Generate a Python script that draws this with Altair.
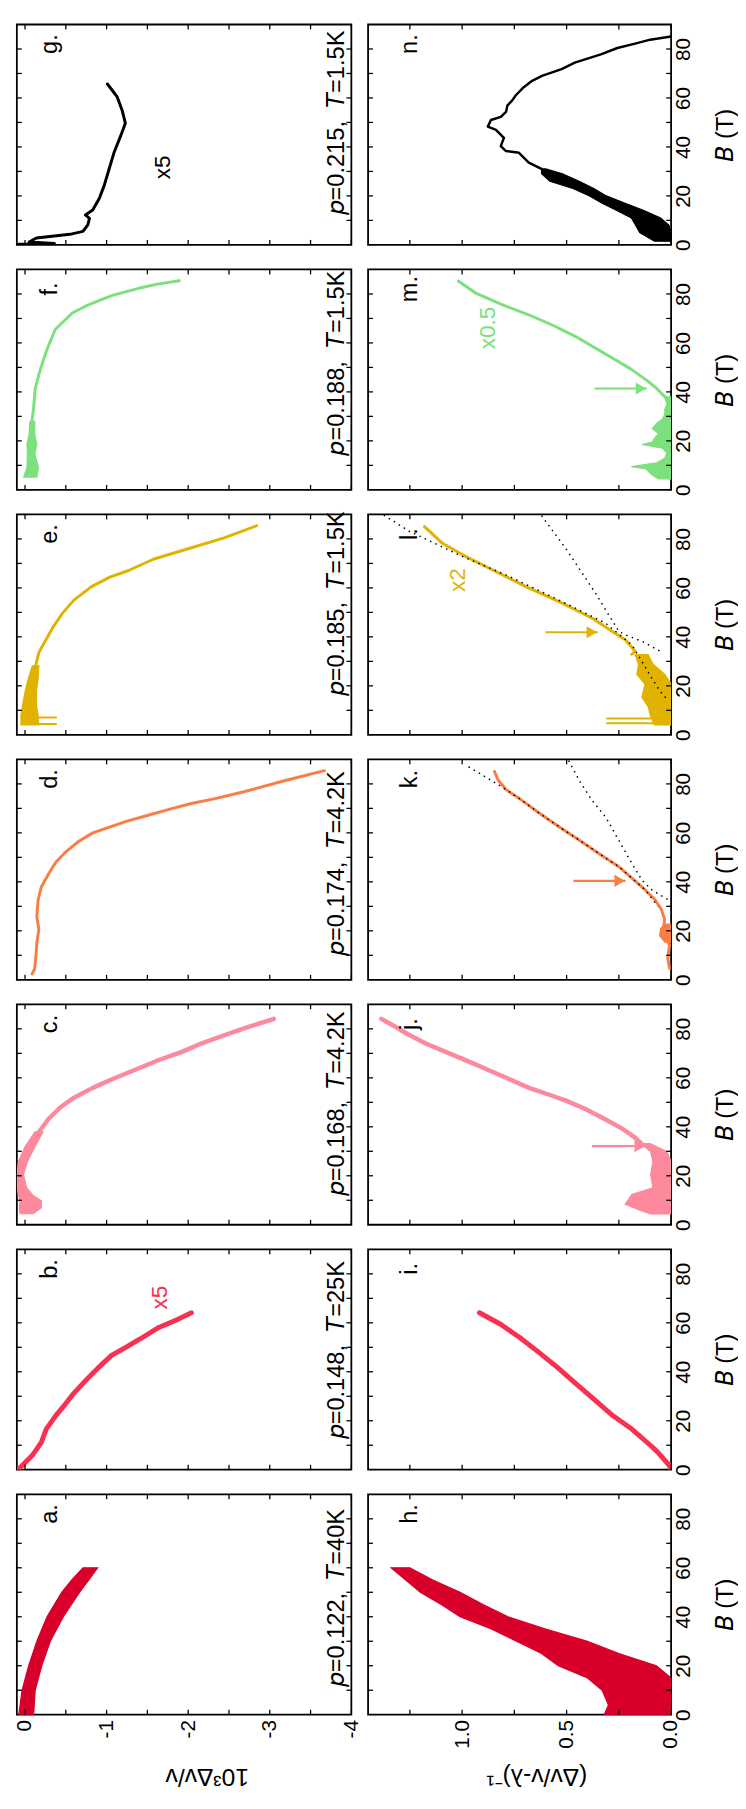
import altair as alt
import pandas as pd

FONT = "Liberation Sans"
W_L, W_R, H = 340, 308, 224
TICK = 5

# ---------------- axes / ticks ----------------
LEFT_DOMAIN = [0.1, -4.0]
RIGHT_DOMAIN = [1.45, 0.0]
B_DOMAIN = [0, 90]
LEFT_X_TICKS = [0, -0.5, -1, -1.5, -2, -2.5, -3, -3.5, -4]
RIGHT_X_TICKS = [0, 0.25, 0.5, 0.75, 1.0, 1.25]
B_TICKS = [10, 20, 30, 40, 50, 60, 70, 80]
LEFT_X_LABELS = [0, -1, -2, -3, -4]
RIGHT_X_LABELS = [0, 0.5, 1.0]
B_LABELS = [0, 20, 40, 60, 80]

# ---------------- colours ----------------
C_A = "#d8002a"
C_B = "#fa3050"
C_C = "#fc8a9c"
C_D = "#fb7d44"
C_E = "#e1b300"
C_F = "#7ce07c"
C_G = "#000000"

# ---------------- left column (10^3 dv/v vs B) ----------------
A_BAND_B = [0, 10, 20, 30, 40, 50, 55, 60]
A_BAND_V1 = [0.076, 0.036, -0.045, -0.145, -0.27, -0.45, -0.57, -0.71]
A_BAND_V2 = [-0.105, -0.125, -0.205, -0.31, -0.47, -0.67, -0.78, -0.89]

B_LINE_B = [0.5, 5.9, 11.2, 16.6, 22.0, 26.6, 31.3, 36.7, 41.4, 46.7, 50.1, 53.4, 58.1, 61.4, 64.1]
B_LINE_V = [0.07, -0.09, -0.2, -0.26, -0.375, -0.49, -0.60, -0.75, -0.89, -1.06, -1.24, -1.41, -1.64, -1.87, -2.04]

C_LINE_B = [37.9, 43.3, 47.9, 51.9, 55.9, 59.3, 63.3, 67.3, 70.7, 74.0, 77.4, 80.7, 84.1]
C_LINE_V = [-0.17, -0.29, -0.43, -0.60, -0.83, -1.06, -1.35, -1.64, -1.93, -2.16, -2.44, -2.73, -3.05]
C_BAND_B = [4.5, 7.0, 9.8, 12.0, 15.1, 20.5, 25.8, 31.8, 37.9]
C_BAND_V1 = [0.06, 0.07, 0.06, 0.08, 0.1, 0.1, 0.08, 0.0, -0.12]
C_BAND_V2 = [-0.1, -0.2, -0.2, -0.1, -0.02, 0.02, -0.03, -0.12, -0.22]

D_LINE_B = [2.4, 4.4, 9.8, 15.1, 20.5, 25.8, 32.5, 37.9, 43.3, 47.9, 51.9, 56.6, 60.0, 62.0, 64.7, 67.3, 70.0, 72.0, 74.0, 76.7, 81.4, 85.4]
D_LINE_V = [-0.088, -0.117, -0.134, -0.145, -0.17, -0.145, -0.16, -0.20, -0.29, -0.375, -0.49, -0.66, -0.83, -1.01, -1.24, -1.52, -1.81, -2.04, -2.33, -2.67, -3.19, -3.67]

E_LINE_B = [28.2, 33.6, 39.0, 44.3, 49.7, 55.0, 60.4, 64.4, 67.1, 71.8, 76.4, 80.4, 85.4]
E_LINE_V = [-0.13, -0.17, -0.26, -0.35, -0.46, -0.60, -0.81, -1.04, -1.27, -1.58, -2.04, -2.44, -2.84]
E_BAND_B = [4.0, 8.0, 12.2, 17.5, 22.9, 28.2]
E_BAND_V1 = [0.05, 0.05, 0.03, 0.0, -0.04, -0.09]
E_BAND_V2 = [-0.17, -0.16, -0.14, -0.14, -0.16, -0.17]
E_SPIKE_B = [4.4, 7.1]
E_SPIKE_V1 = [0.03, 0.03]
E_SPIKE_V2 = [-0.39, -0.39]

F_LINE_B = [28.0, 33.3, 41.4, 49.4, 57.4, 65.5, 72.2, 75.0, 77.5, 79.5, 82.2, 84.0, 85.4]
F_LINE_V = [-0.085, -0.105, -0.125, -0.19, -0.27, -0.37, -0.58, -0.74, -0.92, -1.08, -1.38, -1.62, -1.89]
F_BAND_B = [5.2, 9.2, 14.6, 18.6, 22.6, 28.0]
F_BAND_V1 = [0.016, -0.024, -0.03, -0.024, -0.05, -0.06]
F_BAND_V2 = [-0.145, -0.165, -0.12, -0.145, -0.12, -0.12]

G_LINE_B = [0.3, 0.6, 1.2, 2.8, 4.3, 5.5, 8.2, 10.8, 12.2, 14.2, 18.9, 24.2, 30.9, 37.6, 44.3, 49.7, 55.0, 60.4, 65.7]
G_LINE_V = [0.08, -0.36, -0.05, -0.14, -0.55, -0.71, -0.77, -0.79, -0.74, -0.83, -0.91, -0.97, -1.03, -1.09, -1.17, -1.23, -1.19, -1.13, -1.01]

# ---------------- right column ((dv/v - lambda)^-1 vs B) ----------------
H_BAND_B = [0, 4, 10, 15, 20, 25, 30, 35, 40, 45, 50, 55, 60]
H_BAND_V1 = [0.32, 0.30, 0.33, 0.40, 0.54, 0.62, 0.74, 0.86, 1.01, 1.10, 1.20, 1.27, 1.34]
H_BAND_V2 = [0.0, 0.0, 0.0, 0.0, 0.07, 0.25, 0.40, 0.60, 0.78, 0.90, 1.01, 1.14, 1.25]

I_LINE_B = [0.0, 1.9, 7.2, 9.9, 16.6, 22.0, 28.6, 35.3, 42.0, 48.1, 54.1, 59.4, 64.1]
I_LINE_V = [0.0, 0.01, 0.064, 0.098, 0.188, 0.278, 0.367, 0.457, 0.547, 0.636, 0.726, 0.816, 0.917]

J_LINE_B = [33.2, 35.9, 39.2, 43.3, 47.3, 50.6, 53.3, 55.9, 59.3, 62.7, 66.0, 70.0, 74.0, 78.0, 81.4, 84.1]
J_LINE_V = [0.143, 0.177, 0.233, 0.32, 0.41, 0.50, 0.59, 0.68, 0.77, 0.861, 0.95, 1.062, 1.174, 1.264, 1.33, 1.387]
J_BAND_B = [4.4, 5.7, 8.4, 12.4, 15.1, 20.5, 25.8, 29.8, 33.2]
J_BAND_V1 = [0.098, 0.143, 0.22, 0.188, 0.087, 0.098, 0.087, 0.098, 0.143]
J_BAND_V2 = [0.0, 0.0, 0.0, 0.0, 0.0, 0.0, 0.0, 0.02, 0.1]
J_ARROW = [32.1, 0.379, 0.122]   # B, tail, tip

K_LINE_B = [4.7, 8.7, 14.1, 19.4, 24.7, 28.8, 32.8, 36.8, 41.5, 46.2, 51.5, 56.9, 62.2, 67.7, 73.6, 77.6, 81.6, 85.0]
K_LINE_V = [0.0075, 0.016, 0.0075, 0.039, 0.031, 0.047, 0.078, 0.125, 0.1875, 0.25, 0.344, 0.437, 0.531, 0.625, 0.719, 0.789, 0.828, 0.845]
K_BAND_B = [15.4, 18.0, 21.0, 22.7]
K_BAND_V1 = [0.03, 0.055, 0.05, 0.03]
K_BAND_V2 = [0.0, 0.0, 0.0, 0.0]
K_FIT1_B = [87.0, 83.0, 77.6, 73.6, 67.7, 62.2, 56.9, 51.5, 46.2, 41.5, 36.8, 30.0]
K_FIT1_V = [0.969, 0.891, 0.789, 0.719, 0.625, 0.531, 0.437, 0.344, 0.25, 0.1875, 0.125, 0.0625]
K_FIT2_B = [89.5, 81.0, 72.9, 66.3, 56.9, 47.5, 40.8, 36.8, 34.8, 32.8]
K_FIT2_V = [0.49, 0.437, 0.375, 0.312, 0.25, 0.1875, 0.14, 0.094, 0.055, 0.016]
K_ARROW = [40.4, 0.467, 0.218]

L_LINE_B = [32.9, 34.1, 38.7, 42.2, 47.5, 54.2, 60.2, 66.9, 73.6, 78.2, 85.0]
L_LINE_V = [0.188, 0.172, 0.218, 0.281, 0.375, 0.531, 0.687, 0.844, 1.0, 1.094, 1.18]
L_BAND_B = [4.0, 8.0, 11.4, 15.4, 20.7, 24.7, 28.8, 32.8]
L_BAND_V1 = [0.08, 0.10, 0.109, 0.14, 0.125, 0.164, 0.156, 0.172]
L_BAND_V2 = [0.0, 0.0, 0.0, 0.0, 0.0, 0.03, 0.086, 0.11]
L_SPIKE_B = [4.7, 6.7]
L_SPIKE_V1 = [0.0, 0.0]
L_SPIKE_V2 = [0.31, 0.31]
L_FIT1_B = [89.7, 83.0, 72.9, 64.9, 53.5, 45.5, 36.7, 30.0, 23.4, 17.9, 14.1]
L_FIT1_V = [1.375, 1.25, 1.0, 0.78, 0.5, 0.312, 0.1875, 0.14, 0.094, 0.054, 0.015]
L_FIT2_B = [89.5, 75.6, 57.6, 42.2, 40.8, 38.2, 36.1, 33.5]
L_FIT2_V = [0.62, 0.5, 0.36, 0.25, 0.218, 0.14, 0.094, 0.039]
L_ARROW = [41.9, 0.601, 0.351]

M_LINE_B = [34.7, 38.0, 41.4, 44.7, 49.4, 53.4, 58.1, 62.8, 66.8, 71.5, 75.5, 80.2, 85.3]
M_LINE_V = [0.0, 0.03, 0.069, 0.116, 0.194, 0.273, 0.367, 0.461, 0.556, 0.681, 0.806, 0.932, 1.018]
M_BAND_B = [4.5, 6, 8.5, 9.5, 11, 13, 15, 17, 18.5, 19.5, 21, 23, 25, 27, 29, 31, 33, 35, 38]
M_BAND_V1 = [0.06, 0.09, 0.12, 0.19, 0.07, 0.03, 0.02, 0.04, 0.14, 0.09, 0.08, 0.06, 0.09, 0.07, 0.04, 0.03, 0.03, 0.02, 0.03]
M_BAND_V2 = [0.0] * 19
M_ARROW = [41.4, 0.367, 0.116]

N_BAND_B = [1.5, 5, 8, 11, 14, 17, 20, 23, 26, 29, 31]
N_BAND_V1 = [0.08, 0.15, 0.17, 0.19, 0.26, 0.33, 0.39, 0.47, 0.58, 0.62, 0.62]
N_BAND_V2 = [0.0, 0.0, 0.01, 0.05, 0.13, 0.22, 0.31, 0.37, 0.44, 0.52, 0.60]
N_LINE_B = [30.9, 33.6, 37.6, 38.3, 40.3, 43.7, 47.0, 48.3, 51.0, 52.3, 54.3, 57.0, 59.0, 61.0, 64.4, 67.0, 69.0, 71.8, 74.4, 77.8, 80.4, 82.4, 83.8, 85.1]
N_LINE_V = [0.618, 0.681, 0.728, 0.79, 0.815, 0.80, 0.838, 0.877, 0.862, 0.815, 0.79, 0.783, 0.76, 0.744, 0.705, 0.665, 0.618, 0.524, 0.461, 0.336, 0.257, 0.163, 0.10, 0.0]

# ---------------- annotations ----------------
LEFT_LETTERS = ["g.", "f.", "e.", "d.", "c.", "b.", "a."]
RIGHT_LETTERS = ["n.", "m.", "l.", "k.", "j.", "i.", "h."]
CONDITIONS = ["\U0001D631=0.215,\u00a0 \U0001D61B=1.5K", "\U0001D631=0.188,\u00a0 \U0001D61B=1.5K",
              "\U0001D631=0.185,\u00a0 \U0001D61B=1.5K", "\U0001D631=0.174,\u00a0 \U0001D61B=4.2K",
              "\U0001D631=0.168,\u00a0 \U0001D61B=4.2K", "\U0001D631=0.148,\u00a0 \U0001D61B=25K",
              "\U0001D631=0.122,\u00a0 \U0001D61B=40K"]
CONDITION_START_B = [12.0, 14.0, 15.7, 9.7, 11.6, 12.4, 11.2]
CONDITION_V = -3.82
LEFT_LETTER_POS = [-0.31, 82]
RIGHT_LETTER_POS = [1.25, 82]

SY = alt.Scale(domain=B_DOMAIN, nice=False, zero=False)


def make_ctx(side, last_row):
    xaxis = None
    yaxis = None
    if last_row and side == "L":
        xaxis = alt.Axis(orient="bottom", values=LEFT_X_LABELS, ticks=False, domain=False, grid=False,
                         labelExpr="'' + datum.value", labelAngle=270, labelAlign="right",
                         labelBaseline="middle", labelPadding=5, labelFontSize=21, labelFlush=False,
                         labelOverlap=False, title="10³Δv/v", titleAngle=180, titleAlign="center",
                         titleBaseline="middle", titleX=193, titleY=63, titleFontSize=25,
                         titleFontWeight="normal")
    if last_row and side == "R":
        xaxis = alt.Axis(orient="bottom", values=RIGHT_X_LABELS, ticks=False, domain=False, grid=False,
                         labelExpr="format(datum.value, '.1f')", labelAngle=270, labelAlign="right",
                         labelBaseline="middle", labelPadding=5, labelFontSize=21, labelFlush=False,
                         labelOverlap=False, title="(Δv/v-λ)⁻¹", titleAngle=180, titleAlign="center",
                         titleBaseline="middle", titleX=171, titleY=63, titleFontSize=25,
                         titleFontWeight="normal")
    if side == "R":
        yaxis = alt.Axis(orient="right", values=B_LABELS, ticks=False, domain=False, grid=False,
                         labelExpr="'' + datum.value", labelAngle=270, labelAlign="center",
                         labelBaseline="top", labelPadding=2, labelFontSize=21, labelFlush=False,
                         labelOverlap=False, title="\U0001D609 (T)", titleAngle=270, titleAlign="center",
                         titleBaseline="middle", titleX=55, titleY=112, titleFontSize=24,
                         titleFontWeight="normal")
    scale = alt.Scale(domain=LEFT_DOMAIN if side == "L" else RIGHT_DOMAIN, nice=False, zero=False)
    return {"side": side, "xaxis": xaxis, "yaxis": yaxis, "xscale": scale,
            "w": W_L if side == "L" else W_R}


def X(field, c):
    return alt.X(f"{field}:Q", scale=c["xscale"], axis=c["xaxis"])


def Y(c, field="B"):
    return alt.Y(f"{field}:Q", scale=SY, axis=c["yaxis"])


def line(c, bs, vs, color, width, dash=None):
    df = pd.DataFrame({"B": bs, "v": vs})
    df["i"] = range(len(df))
    kw = dict(color=color, strokeWidth=width, clip=True, strokeJoin="round")
    if dash:
        kw["strokeDash"] = dash
    else:
        kw["strokeCap"] = "round"
    return alt.Chart(df).mark_line(**kw).encode(x=X("v", c), y=Y(c), order="i:Q")


def band(c, bs, v1, v2, color):
    df = pd.DataFrame({"B": bs, "v1": v1, "v2": v2})
    return alt.Chart(df).mark_area(color=color, orient="horizontal", clip=True, stroke=color,
                                   strokeWidth=1.2, opacity=1).encode(
        x=X("v1", c), x2="v2:Q", y=Y(c))


def spikes(c, bs, v1, v2, color):
    df = pd.DataFrame({"B": bs, "v1": v1, "v2": v2})
    return alt.Chart(df).mark_rule(color=color, strokeWidth=2, clip=True).encode(
        x=X("v1", c), x2="v2:Q", y=Y(c))


def arrow(c, spec, color):
    df = pd.DataFrame({"B": [spec[0]], "t": [spec[1]], "h": [spec[2]]})
    shaft = alt.Chart(df).mark_rule(color=color, strokeWidth=2.2).encode(
        x=X("t", c), x2="h:Q", y=Y(c))
    head = alt.Chart(df).mark_point(shape="triangle-right", filled=True, size=150, color=color,
                                    opacity=1, xOffset=-6).encode(x=X("h", c), y=Y(c))
    return [shaft, head]


def text(c, v, b, t, color="black", size=24, align="center"):
    df = pd.DataFrame({"v": [v], "B": [b], "t": [t]})
    return alt.Chart(df).mark_text(angle=270, align=align, baseline="middle", font=FONT,
                                   fontSize=size, color=color).encode(
        x=X("v", c), y=Y(c), text="t:N")


def frame(c):
    w = c["w"]
    xt = pd.DataFrame({"v": LEFT_X_TICKS if c["side"] == "L" else RIGHT_X_TICKS})
    bt = pd.DataFrame({"B": B_TICKS})
    tk = dict(color="black", strokeWidth=1.3)
    top = alt.Chart(xt).mark_rule(**tk).encode(x=X("v", c), y=alt.value(0), y2=alt.value(TICK))
    bottom = alt.Chart(xt).mark_rule(**tk).encode(x=X("v", c), y=alt.value(H - TICK), y2=alt.value(H))
    left = alt.Chart(bt).mark_rule(**tk).encode(y=Y(c), x=alt.value(0), x2=alt.value(TICK))
    right = alt.Chart(bt).mark_rule(**tk).encode(y=Y(c), x=alt.value(w - TICK), x2=alt.value(w))
    return [top, bottom, left, right]


LEFT_BUILDERS = [
    lambda c: [line(c, G_LINE_B, G_LINE_V, C_G, 3), text(c, -1.69, 31.7, "x5", C_G, 23)],
    lambda c: [band(c, F_BAND_B, F_BAND_V1, F_BAND_V2, C_F), line(c, F_LINE_B, F_LINE_V, C_F, 3)],
    lambda c: [band(c, E_BAND_B, E_BAND_V1, E_BAND_V2, C_E),
               spikes(c, E_SPIKE_B, E_SPIKE_V1, E_SPIKE_V2, C_E),
               line(c, E_LINE_B, E_LINE_V, C_E, 3)],
    lambda c: [line(c, D_LINE_B, D_LINE_V, C_D, 3)],
    lambda c: [band(c, C_BAND_B, C_BAND_V1, C_BAND_V2, C_C), line(c, C_LINE_B, C_LINE_V, C_C, 4.5)],
    lambda c: [line(c, B_LINE_B, B_LINE_V, C_B, 5), text(c, -1.66, 70.3, "x5", C_B, 23)],
    lambda c: [band(c, A_BAND_B, A_BAND_V1, A_BAND_V2, C_A)],
]

RIGHT_BUILDERS = [
    lambda c: [band(c, N_BAND_B, N_BAND_V1, N_BAND_V2, C_G), line(c, N_LINE_B, N_LINE_V, C_G, 2.5)],
    lambda c: [band(c, M_BAND_B, M_BAND_V1, M_BAND_V2, C_F), line(c, M_LINE_B, M_LINE_V, C_F, 3),
               *arrow(c, M_ARROW, C_F), text(c, 0.877, 66.1, "x0.5", C_F, 23)],
    lambda c: [band(c, L_BAND_B, L_BAND_V1, L_BAND_V2, C_E),
               spikes(c, L_SPIKE_B, L_SPIKE_V1, L_SPIKE_V2, C_E),
               line(c, L_LINE_B, L_LINE_V, C_E, 3),
               line(c, L_FIT1_B, L_FIT1_V, "black", 1.5, [1.5, 4.5]),
               line(c, L_FIT2_B, L_FIT2_V, "black", 1.5, [1.5, 4.5]),
               *arrow(c, L_ARROW, C_E), text(c, 1.02, 63.2, "x2", C_E, 23)],
    lambda c: [band(c, K_BAND_B, K_BAND_V1, K_BAND_V2, C_D), line(c, K_LINE_B, K_LINE_V, C_D, 3),
               line(c, K_FIT1_B, K_FIT1_V, "black", 1.5, [1.5, 4.5]),
               line(c, K_FIT2_B, K_FIT2_V, "black", 1.5, [1.5, 4.5]),
               *arrow(c, K_ARROW, C_D)],
    lambda c: [band(c, J_BAND_B, J_BAND_V1, J_BAND_V2, C_C), line(c, J_LINE_B, J_LINE_V, C_C, 4.5),
               *arrow(c, J_ARROW, C_C)],
    lambda c: [line(c, I_LINE_B, I_LINE_V, C_B, 5)],
    lambda c: [band(c, H_BAND_B, H_BAND_V1, H_BAND_V2, C_A)],
]


def panel(side, row):
    c = make_ctx(side, row == 6)
    layers = (LEFT_BUILDERS if side == "L" else RIGHT_BUILDERS)[row](c)
    if side == "L":
        layers.append(text(c, LEFT_LETTER_POS[0], LEFT_LETTER_POS[1], LEFT_LETTERS[row]))
        layers.append(text(c, CONDITION_V, CONDITION_START_B[row], CONDITIONS[row], align="left"))
    else:
        layers.append(text(c, RIGHT_LETTER_POS[0], RIGHT_LETTER_POS[1], RIGHT_LETTERS[row]))
    layers.extend(frame(c))
    return alt.layer(*layers).properties(width=c["w"], height=H)


panels = []
for r in range(7):
    panels.append(panel("L", r))
    panels.append(panel("R", r))

chart = alt.concat(*panels, columns=2, spacing={"row": 25, "column": 17}, bounds="flush").properties(
    padding={"left": 5, "top": 0, "right": 0, "bottom": 0}
).configure(font=FONT).configure_view(stroke="black", strokeWidth=1.8).configure_axis(
    labelFont=FONT, titleFont=FONT, labelColor="black", titleColor="black")

chart.save("out.html", embed_options={"renderer": "svg", "actions": False})
